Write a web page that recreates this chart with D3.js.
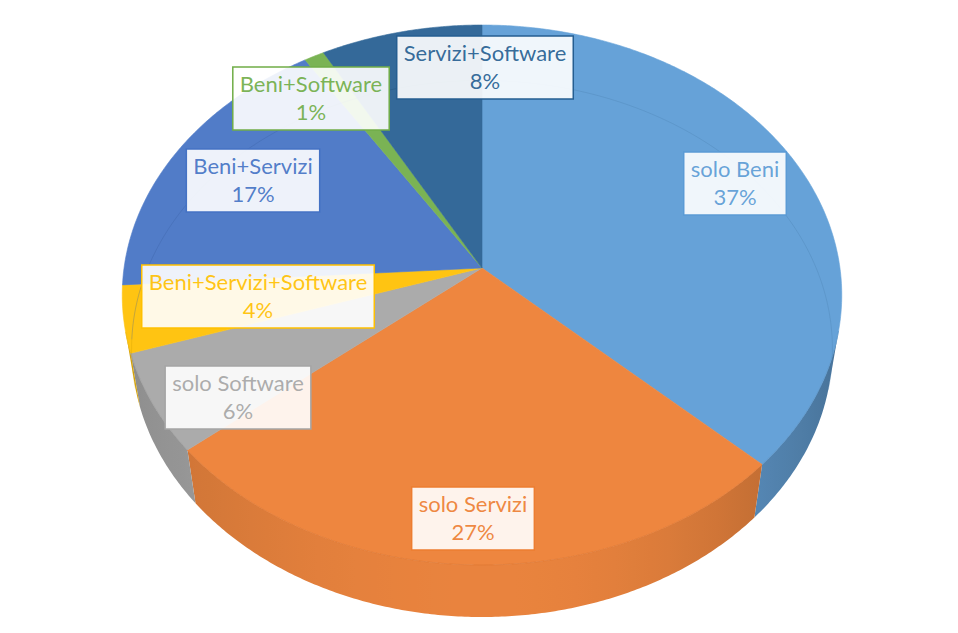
<!DOCTYPE html>
<html>
<head>
<meta charset="utf-8">
<script src="https://cdn.jsdelivr.net/npm/d3@7"></script>
<style>
  html, body { margin: 0; padding: 0; background: #fff; }
  svg { display: block; }
  .lbl text { font-family: Lato, "Open Sans", sans-serif; font-size: 22px; }
</style>
</head>
<body>
<div id="chart"></div>
<script>
  // data
  const categories = ['solo Beni', 'solo Servizi', 'solo Software', 'Beni+Servizi+Software',
    'Beni+Servizi', 'Beni+Software', 'Servizi+Software'];
  const shares = [37, 27, 6, 4, 17, 1, 8];
  const colors = ['#5B9BD5', '#ED7D31', '#A5A5A5', '#FFC000', '#4472C4', '#70AD47', '#255E91'];
  // label box centres (layout only)
  const labelXY = [[735, 183], [473, 518], [238, 397], [258, 296], [253, 180], [311, 98], [485, 67]];

  const width = 958, height = 633;
  const cx = 482, cy = 268;

  // simple perspective camera for the 3d disc
  const sa = 0.7467, ca = Math.sqrt(1 - sa * sa);
  const rr = 0.1504, hh = 0.0354, F = 2380;

  function project(theta, rho, depth) {
    const X = rr * rho * Math.sin(theta);
    const Y = -rr * rho * Math.cos(theta) * sa + hh * depth * ca;
    const Z = 1 + rr * rho * Math.cos(theta) * ca + hh * depth * sa;
    return [cx + F * X / Z, cy + F * Y / Z, Z, X, Y];
  }
  function facing(t) {
    const p = project(t, 1, 0.5);
    return Math.sin(t) * p[3] - Math.cos(t) * sa * p[4] + Math.cos(t) * ca * p[2] < 0;
  }
  function shadeAt(t) {
    const s = Math.sin(t);
    return 0.06 + 0.95 * Math.pow(Math.max(0, s), 2.2) + 0.5 * Math.pow(Math.max(0, -s), 2);
  }

  const light = c => d3.interpolateRgb(c, '#fff')(0.07);

  const data = categories.map((c, i) => ({ name: c, value: shares[i], color: colors[i] }));
  const pie = d3.pie().sort(null).value(d => d.value).startAngle(0).endAngle(2 * Math.PI);
  const arcs = pie(data);

  const svg = d3.select('#chart').append('svg')
    .attr('width', width)
    .attr('height', height);
  const defs = svg.append('defs');

  const line = d3.line().curve(d3.curveLinearClosed);
  const openLine = d3.line();
  const step = Math.PI / 360;

  function sliceOutline(a, depth) {
    const n = Math.max(2, Math.ceil((a.endAngle - a.startAngle) / step));
    const c = project(0, 0, depth);
    const pts = [[c[0], c[1]]];
    for (let k = 0; k <= n; k++) {
      const p = project(a.startAngle + (a.endAngle - a.startAngle) * k / n, 1, depth);
      pts.push([p[0], p[1]]);
    }
    return pts;
  }

  // outer walls: one path per slice for the part facing the camera,
  // shaded with a horizontal gradient
  const walls = [];
  arcs.forEach((a, i) => {
    const n = Math.max(2, Math.ceil((a.endAngle - a.startAngle) / step));
    const ts = d3.range(n + 1).map(k => a.startAngle + (a.endAngle - a.startAngle) * k / n)
      .filter(facing);
    if (ts.length < 2) return;
    const top = ts.map(t => project(t, 1, 0));
    const bot = ts.map(t => project(t, 1, 1)).reverse();
    const pts = top.concat(bot).map(p => [p[0], p[1]]);
    const x0 = d3.min(pts, p => p[0]), x1 = d3.max(pts, p => p[0]);
    const id = 'wall' + i;
    const base = light(a.data.color);
    const stops = ts.filter((t, k) => k % 6 === 0 || k === ts.length - 1).map(t => {
      const p = project(t, 1, 0.5);
      return { off: x1 > x0 ? (p[0] - x0) / (x1 - x0) : 0, col: d3.color(base).darker(shadeAt(t)).formatHex() };
    }).sort((p, q) => p.off - q.off);
    defs.append('linearGradient')
      .attr('id', id)
      .attr('gradientUnits', 'userSpaceOnUse')
      .attr('x1', x0).attr('x2', x1).attr('y1', 0).attr('y2', 0)
      .selectAll('stop')
      .data(stops)
      .join('stop')
      .attr('offset', d => d.off)
      .attr('stop-color', d => d.col);
    walls.push({ pts: pts, id: id });
  });

  svg.append('g').attr('class', 'walls')
    .selectAll('path')
    .data(walls)
    .join('path')
    .attr('d', d => line(d.pts))
    .attr('fill', d => `url(#${d.id})`);

  // top faces
  svg.append('g').attr('class', 'tops')
    .selectAll('path')
    .data(arcs)
    .join('path')
    .attr('d', a => line(sliceOutline(a, 0)))
    .attr('fill', a => light(a.data.color))
    .attr('stroke', a => light(a.data.color))
    .attr('stroke-width', 0.6);

  // light bevel along the front rim
  svg.append('g').attr('class', 'bevel')
    .selectAll('path')
    .data(arcs)
    .join('path')
    .attr('d', a => {
      const n = Math.max(2, Math.ceil((a.endAngle - a.startAngle) / step));
      const pts = d3.range(n + 1).map(k => a.startAngle + (a.endAngle - a.startAngle) * k / n)
        .filter(facing).map(t => project(t, 1, 0)).map(p => [p[0], p[1]]);
      return pts.length > 1 ? openLine(pts) : null;
    })
    .attr('fill', 'none')
    .attr('stroke', a => d3.color(a.data.color).darker(0.3))
    .attr('stroke-opacity', 0.5)
    .attr('stroke-width', 1);

  // faint rim of the hidden back wall, seen through the top
  svg.append('g').attr('class', 'rim')
    .selectAll('path')
    .data(arcs)
    .join('path')
    .attr('d', a => {
      const n = Math.max(2, Math.ceil((a.endAngle - a.startAngle) / step));
      const pts = d3.range(n + 1).map(k => a.startAngle + (a.endAngle - a.startAngle) * k / n)
        .filter(t => Math.cos(t) >= -0.25).map(t => project(t, 1, 1)).map(p => [p[0], p[1]]);
      return pts.length > 1 ? openLine(pts) : null;
    })
    .attr('fill', 'none')
    .attr('stroke', a => d3.color(a.data.color).darker(0.6))
    .attr('stroke-opacity', 0.3)
    .attr('stroke-width', 1);

  // data labels
  const fmt = d3.format('.0%');
  const total = d3.sum(shares);
  const lbl = svg.append('g').attr('class', 'lbl')
    .selectAll('g')
    .data(arcs)
    .join('g')
    .attr('transform', (a, i) => `translate(${labelXY[i][0]},${labelXY[i][1]})`);

  const box = lbl.append('rect');
  lbl.append('text')
    .attr('text-anchor', 'middle')
    .attr('y', -6)
    .attr('fill', a => a.data.color)
    .attr('fill-opacity', 0.92)
    .text(a => a.data.name);
  lbl.append('text')
    .attr('text-anchor', 'middle')
    .attr('y', 22)
    .attr('fill', a => a.data.color)
    .attr('fill-opacity', 0.92)
    .text(a => fmt(a.value / total));

  box.each(function () {
    const g = d3.select(this.parentNode);
    const w = d3.max(g.selectAll('text').nodes(), n => n.getComputedTextLength()) + 14;
    d3.select(this)
      .attr('x', -w / 2)
      .attr('y', -31)
      .attr('width', w)
      .attr('height', 63)
      .attr('fill', '#fff')
      .attr('fill-opacity', 0.9)
      .attr('stroke', a => a.data.color)
      .attr('stroke-width', 1.5);
  });
</script>
</body>
</html>
